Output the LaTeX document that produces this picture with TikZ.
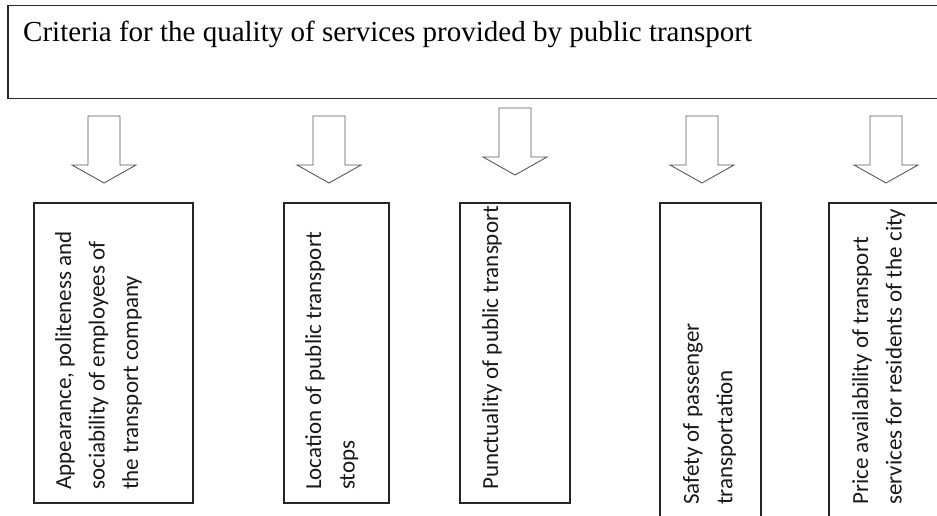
\documentclass[tikz,border=0pt]{standalone}
\usepackage{fontspec}
\setmainfont{Liberation Serif}
\newfontfamily\boxfont{Carlito}
\begin{document}
\begin{tikzpicture}[x=1pt,y=-1pt,
  frame/.style={draw=black!85,line width=1.5pt},
  blockarrow/.style={draw=black!65,line width=0.9pt,fill=white},
  vtext/.style={rotate=90,anchor=north west,inner sep=0pt,align=left,
    font=\boxfont\fontsize{23}{33.5}\selectfont,text=black!90},
]
\useasboundingbox (0,0) rectangle (937,516);
\clip (0,0) rectangle (937,516);
% title box
\node[frame,anchor=north west,minimum width=950pt,minimum height=93pt,inner sep=0pt] (title) at (7,5) {};
\node[anchor=base west,inner sep=0pt,font=\fontsize{29}{33}\selectfont] (titletext) at (23,42)
  {Criteria for the quality of services provided by public transport};
% block arrows
\newcommand\blockarr[3]{%
  \draw[blockarrow] (#1-16,#2) -- (#1+16,#2) -- (#1+16,#2+49) -- (#1+32,#2+49)
    -- (#1,#2+67) -- (#1-32,#2+49) -- (#1-16,#2+49) -- cycle
    node[coordinate] (#3) at (#1,#2) {};}
\blockarr{104}{116}{a1}
\blockarr{329}{116}{a2}
\blockarr{515}{108}{a3}
\blockarr{702}{116}{a4}
\blockarr{886}{116}{a5}
% boxes
\node[frame,anchor=north west,minimum width=159pt,minimum height=300pt,inner sep=0pt] (b1) at (33,202) {};
\node[frame,anchor=north west,minimum width=105pt,minimum height=300pt,inner sep=0pt] (b2) at (283,202) {};
\node[frame,anchor=north west,minimum width=110pt,minimum height=300pt,inner sep=0pt] (b3) at (459,202) {};
\node[frame,anchor=north west,minimum width=101pt,minimum height=330pt,inner sep=0pt] (b4) at (659,202) {};
\node[frame,anchor=north west,minimum width=130pt,minimum height=330pt,inner sep=0pt] (b5) at (828,202) {};
% texts
\node[vtext] (t1) at (55,490) {Appearance, politeness and\\sociability of employees of\\the transport company};
\node[vtext] (t2) at (305,490) {Location of public transport\\stops};
\node[vtext] (t3) at (482,490) {Punctuality of public transport};
\node[vtext] (t4) at (683,505) {Safety of passenger\\transportation};
\node[vtext] (t5) at (852,505) {Price availability of transport\\services for residents of the city};
\end{tikzpicture}
\end{document}
